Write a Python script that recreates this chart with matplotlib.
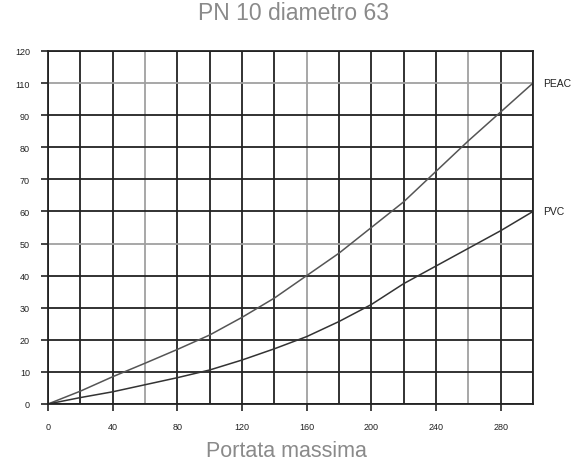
import matplotlib
matplotlib.use('Agg')
from matplotlib import pyplot as plt

# portata (x) e perdita (y, in unita della griglia)
x_values = [0, 20, 40, 60, 80, 100, 120, 140, 160, 180, 200, 220, 240, 260, 280, 300]
peac = [0, 4, 8.5, 12.7, 17, 21.5, 27, 33, 40, 47, 55, 63, 72.5, 82, 91, 100]
pvc = [0, 2, 3.8, 6, 8.2, 10.6, 13.7, 17.2, 21, 25.7, 31, 37.5, 43, 48.5, 54, 60]

x_ticks = [0, 40, 80, 120, 160, 200, 240, 280]
x_tick_labels = ['0', '40', '80', '120', '160', '200', '240', '280']
y_ticks = [0, 10, 20, 30, 40, 50, 60, 70, 80, 90, 100, 110]
y_tick_labels = ['0', '10', '20', '30', '40', '50', '60', '70', '80', '90', '110', '120']

light_x = [60, 160, 260]
light_y = [50, 100]

title_color = '#8a8a8a'

fig = plt.figure(figsize=(5.82, 4.64), dpi=100)
ax = fig.add_axes([48 / 582, 59 / 464, 485 / 582, 353 / 464])

ax.set_xlim(0, 300)
ax.set_ylim(0, 110)

for gx in range(0, 301, 20):
    c = '#a0a0a0' if gx in light_x else '#222222'
    ax.axvline(gx, color=c, lw=1.3, zorder=1)
for gy in range(0, 111, 10):
    c = '#a0a0a0' if gy in light_y else '#222222'
    ax.axhline(gy, color=c, lw=1.3, zorder=1)

ax.plot(x_values, peac, color='#555555', lw=1.1, zorder=2)
ax.plot(x_values, pvc, color='#333333', lw=1.1, zorder=2)

ax.text(306, peac[-1], 'PEAC', fontsize=7.5, color='#222222', va='center', ha='left',
        family='Liberation Sans')
ax.text(306, pvc[-1], 'PVC', fontsize=7.5, color='#222222', va='center', ha='left',
        family='Liberation Sans')

ax.set_xticks(x_ticks)
ax.set_xticklabels(x_tick_labels)
ax.set_yticks(y_ticks)
ax.set_yticklabels(y_tick_labels)
ax.tick_params(axis='both', length=5, width=1.2, color='#222222', labelsize=6.5,
               labelcolor='#222222', pad=8)
for lab in ax.get_xticklabels() + ax.get_yticklabels():
    lab.set_family('Liberation Sans')

for s in ax.spines.values():
    s.set_color('#222222')
    s.set_linewidth(1.3)

fig.text(293 / 582, 1 - 13 / 464, 'PN 10 diametro 63', ha='center', va='center',
         fontsize=16.5, color=title_color, family='Liberation Sans')
fig.text(286 / 582, 1 - 452 / 464, 'Portata massima', ha='center', va='center',
         fontsize=15.5, color=title_color, family='Liberation Sans')

fig.savefig('out.png', dpi=100)
